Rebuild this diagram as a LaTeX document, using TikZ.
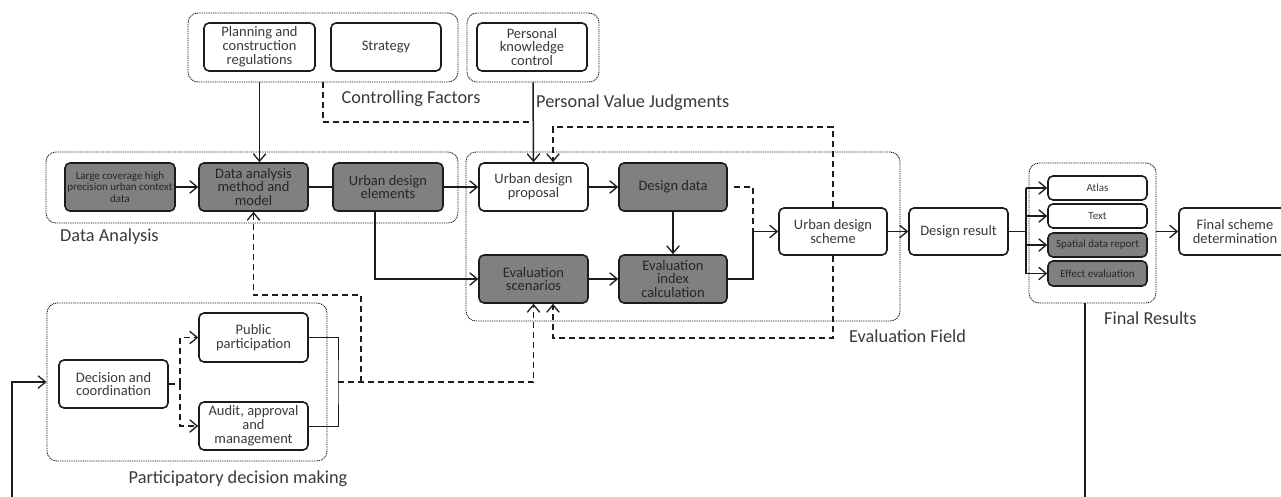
\documentclass[tikz,border=0pt]{standalone}
\usepackage{fontspec}
\setmainfont{Carlito}
\usetikzlibrary{arrows.meta,calc}
\definecolor{boxfill}{RGB}{128,128,128}
\definecolor{ink}{RGB}{28,28,28}
\definecolor{txt}{RGB}{58,58,58}
\begin{document}
\begin{tikzpicture}[x=1pt,y=-1pt,
  wh/.style 2 args={minimum width=#1, minimum height=#2},
  blk/.style={draw=ink, line width=1.6pt, rounded corners=5pt, fill=white, align=center,
    inner sep=0pt, text=txt, font=\fontsize{14.5}{13.8}\selectfont},
  drk/.style={blk, fill=boxfill, text=black!85},
  small/.style={font=\fontsize{11}{11.5}\selectfont},
  grp/.style={draw=ink, line width=0.9pt, dash pattern=on 1pt off 0.8pt, rounded corners=10pt, inner sep=0pt},
  lbl/.style={text=txt, font=\fontsize{18.3}{20}\selectfont, inner sep=0pt},
  tip/.style={-{Straight Barb[length=7.5pt,width=12.5pt,line width=1.3pt]}},
  con/.style={line width=1.5pt, draw=ink},
  arr/.style={con, tip},
  dsh/.style={con, dash pattern=on 6pt off 4pt},
  thinline/.style={line width=1pt, draw=ink},
]
\clip (0,0) rectangle (1281,497);
\fill[white] (0,0) rectangle (1281,497);

% ---- group frames ----
\node[grp, wh={270}{69}] (cfg) at (323,47.5) {};
\node[grp, wh={132}{69}] (pvg) at (533,47.5) {};
\node[grp, wh={412}{71}] (dag) at (252,187.5) {};
\node[grp, wh={434}{169}] (efg) at (683,236.5) {};
\node[grp, wh={280}{158}] (pdg) at (187,382) {};
\node[grp, wh={127}{140}] (frg) at (1092.5,233) {};

% ---- controlling factors / personal judgments ----
\node[blk, wh={111}{48}] (plan) at (259.5,47) {Planning and\\construction\\regulations};
\node[blk, wh={110}{48}] (strat) at (386,47) {Strategy};
\node[blk, wh={110}{48}] (pkc) at (532,47) {Personal\\knowledge\\control};

% ---- data analysis ----
\node[drk, wh={110}{48}, small] (large) at (120,187) {Large coverage high\\precision urban context\\data};
\node[drk, wh={109}{48}] (dam) at (253.5,187) {Data analysis\\method and\\model};
\node[drk, wh={110}{48}] (ude) at (388,187) {Urban design\\elements};

% ---- evaluation field ----
\node[blk, wh={109}{48}] (udp) at (533.5,187) {Urban design\\proposal};
\node[drk, wh={108}{48}] (dd) at (673,187) {Design data};
\node[drk, wh={109}{48}] (es) at (533.5,279) {Evaluation\\scenarios};
\node[drk, wh={108}{48}] (eic) at (673,279) {Evaluation\\index\\calculation};
\node[blk, wh={108}{47}] (uds) at (833,231.5) {Urban design\\scheme};

% ---- participatory decision making ----
\node[blk, wh={109}{48}] (dc) at (113.5,384) {Decision and\\coordination};
\node[blk, wh={109}{49}] (pp) at (253.5,337.5) {Public\\participation};
\node[blk, wh={109}{48}] (aam) at (253.5,426) {Audit, approval\\and\\management};

% ---- results ----
\node[blk, wh={99}{47}] (dr) at (958.5,231.5) {Design result};
\node[blk, wh={99}{24}, small] (atlas) at (1097.5,188) {Atlas};
\node[blk, wh={99}{24}, small] (text) at (1097.5,216) {Text};
\node[drk, wh={99}{24}, small] (sdr) at (1097.5,245) {Spatial data report};
\node[drk, wh={99}{25}, small] (ee) at (1097.5,273.5) {Effect evaluation};
\node[blk, wh={112}{47}] (fsd) at (1235,231.5) {Final scheme\\determination};

% ---- group captions ----
\node[lbl] (lcf) at (411,99) {Controlling Factors};
\node[lbl, anchor=west] (lpv) at (536,103) {Personal Value Judgments};
\node[lbl, anchor=west] (lda) at (60,237) {Data Analysis};
\node[lbl, anchor=west] (lef) at (849,336) {Evaluation Field};
\node[lbl, anchor=west] (lfr) at (1104,318) {Final Results};
\node[lbl] (lpd) at (238,479) {Participatory decision making};

% ---- junction points ----
\coordinate (jn) at (533,122);
\coordinate (mj) at (753,231.5);
\coordinate (dsp) at (180,384);
\coordinate (pj) at (338,382);
\coordinate (pb) at (361,382);
\coordinate (bus) at (1026,231.5);

% ---- connectors: top ----
\draw[arr] (plan |- cfg.south) -- (plan |- dam.north);
\draw[arr] (pvg.south) -- (udp.north);
\draw[dsh] (cfg.south) |- (jn);

% ---- connectors: data analysis ----
\draw[arr] (large.east) -- (dam.west);
\draw[con] (dam.east) -- (ude.west);
\draw[arr] (ude.east) -- (udp.west);
\draw[arr] ($(ude.south)+(-13,0)$) |- (es.west);

% ---- connectors: evaluation field ----
\draw[arr] (udp.east) -- (dd.west);
\draw[arr] (dd.south) -- (eic.north);
\draw[arr] (es.east) -- (eic.west);
\draw[con] (eic.east) -| (mj);
\draw[arr] (mj) -- (uds.west);
\draw[dsh] ($(dd.east)+(6,0)$) -| (mj);
\draw[dsh, tip] (uds.north) |- (553,127) -- ($(udp.north)+(19.5,0)$);
\draw[dsh, tip] (uds.south) |- (553,338) -- ($(es.south)+(19.5,0)$);

% ---- connectors: participatory decision making ----
\draw[dsh] (dc.east) -- (dsp);
\draw[dsh, tip] (dsp) |- (pp.west);
\draw[dsh, tip] (dsp) |- (aam.west);
\draw[thinline] (pp.east) -| (pj) |- (aam.east);
\draw[dsh, tip] (pj) -| (es.south);
\draw[dsh, tip] (pb) |- (253.5,295) -- (dam.south);
\draw[arr] (12,500) |- (pdg.west);

% ---- connectors: results ----
\draw[arr] (uds.east) -- (dr.west);
\draw[con] (dr.east) -- (bus);
\draw[con] (bus |- atlas) -- (bus |- ee);
\draw[arr] (bus |- atlas) -- (atlas.west);
\draw[arr] (bus |- text) -- (text.west);
\draw[arr] (bus |- sdr) -- (sdr.west);
\draw[arr] (bus |- ee) -- (ee.west);
\draw[arr] (frg.east |- fsd.west) -- (fsd.west);
\draw[con] (frg.south -| 1085,0) -- (1085,500);
\end{tikzpicture}
\end{document}
